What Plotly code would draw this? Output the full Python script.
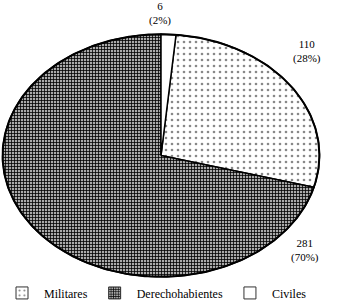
import numpy as np
import plotly.graph_objects as go

categories = ["Militares", "Derechohabientes", "Civiles"]
values = [110, 281, 6]
pct_labels = ["28%", "70%", "2%"]

patterns = [
    dict(shape=".", size=6, solidity=0.15, fgcolor="#888888", bgcolor="white"),
    dict(shape="+", size=3, solidity=0.45, fgcolor="#000000", bgcolor="#aaaaaa"),
    None,
]

total = sum(values)
FONT = "Times New Roman, Liberation Serif, serif"
label_text = [f"{v}<br>({p})" for v, p in zip(values, pct_labels)]

# start so that the last slice (Civiles) ends at 12 o'clock
start = 2 * np.pi * values[-1] / total
fig = go.Figure()
ang = start
for cat, v, pat in zip(categories, values, patterns):
    span = 2 * np.pi * v / total
    th = np.linspace(ang, ang + span, max(3, int(200 * v / total) + 3))
    xs = np.concatenate([[0], np.sin(th), [0]])
    ys = np.concatenate([[0], np.cos(th), [0]])
    fp = dict(**pat, fillmode="replace") if pat else dict(shape="")
    fig.add_trace(go.Scatter(
        x=xs, y=ys, mode="lines", fill="toself", name=cat, showlegend=False,
        fillcolor="white", fillpattern=fp,
        line=dict(color="black", width=1.5), hoverinfo="skip",
    ))
    ang += span

# outline
th = np.linspace(0, 2 * np.pi, 400)
fig.add_trace(go.Scatter(x=np.sin(th), y=np.cos(th), mode="lines",
                         line=dict(color="black", width=2), showlegend=False, hoverinfo="skip"))

# legend entries
for cat, pat in zip(categories, patterns):
    mk = dict(color="white", line=dict(color="#333333", width=1))
    if pat:
        mk["pattern"] = dict(**pat, fillmode="replace")
    fig.add_trace(go.Bar(x=[None], y=[None], name=cat, marker=mk))

# plot area in px: left 1, width 320, top 33, height 245
PL, PW, PT, PH = 1, 320, 33, 245
lab_pos = [(307, 51), (305, 250), (160, 14)]
for (px, py), t in zip(lab_pos, label_text):
    fig.add_annotation(x=(px - PL) / PW, y=(PT + PH - py) / PH, xref="paper", yref="paper",
                       text=t, showarrow=False, xanchor="center", yanchor="middle",
                       borderpad=0, font=dict(family=FONT, size=11, color="black"))

fig.update_layout(
    width=340, height=302,
    margin=dict(l=PL, r=340 - PL - PW, t=PT, b=302 - PT - PH, autoexpand=False),
    paper_bgcolor="white", plot_bgcolor="white",
    xaxis=dict(range=[-1.01, 1.01], visible=False, fixedrange=True),
    yaxis=dict(range=[-1.01, 1.01], visible=False, fixedrange=True),
    legend=dict(orientation="h", xref="container", yref="container",
                x=-0.018, y=0.03, xanchor="left", yanchor="middle",
                font=dict(family=FONT, size=12, color="black"),
                itemwidth=34, bgcolor="rgba(0,0,0,0)"),
    showlegend=True,
)
fig.write_html("out.html")
